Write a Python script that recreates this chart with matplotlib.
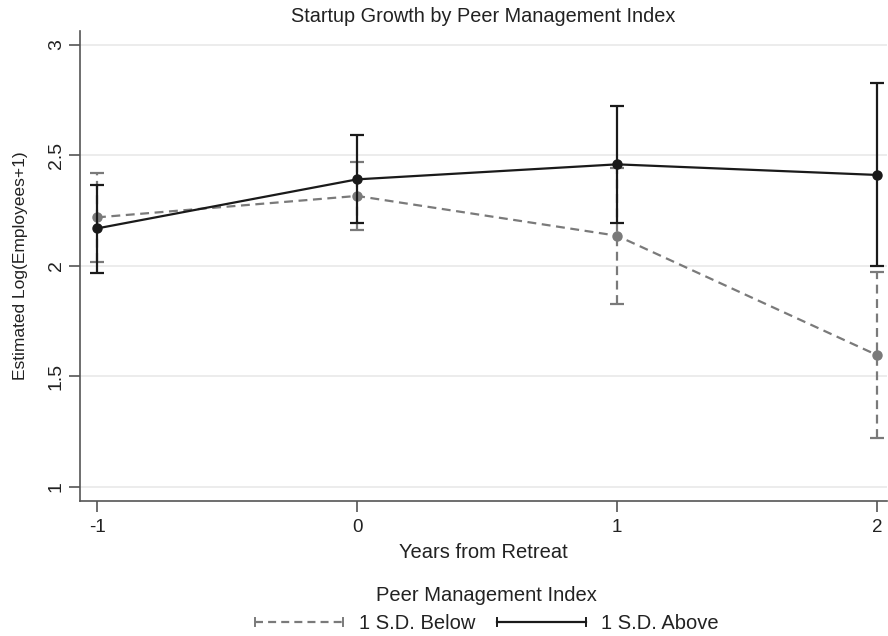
import matplotlib
matplotlib.use("Agg")
import matplotlib.pyplot as plt
from matplotlib.lines import Line2D
from matplotlib.legend_handler import HandlerBase

plt.rcParams['font.family'] = ['Liberation Sans', 'DejaVu Sans']

years = [-1, 0, 1, 2]
below_mean = [2.22, 2.317, 2.137, 1.597]
below_lo = [2.02, 2.163, 1.83, 1.22]
below_hi = [2.42, 2.472, 2.444, 1.974]
above_mean = [2.170, 2.392, 2.460, 2.412]
above_lo = [1.97, 2.195, 2.196, 2.0]
above_hi = [2.368, 2.593, 2.725, 2.828]

yticks = [1, 1.5, 2, 2.5, 3]
ytick_labels = ['1', '1.5', '2', '2.5', '3']
xticks = [-1, 0, 1, 2]
xtick_labels = ['-1', '0', '1', '2']

GRAY = '#7a7a7a'
BLACK = '#1a1a1a'
TXT = '#222222'

fig = plt.figure(figsize=(8.88, 6.36), dpi=100)
ax = fig.add_axes([80/888, 1-501/636, 807/888, 470/636])

for y in yticks:
    ax.axhline(y, color='#ebebeb', lw=1.3, zorder=0)

def draw(mean, lo, hi, color, ls, z):
    yerr = [[m - l for m, l in zip(mean, lo)], [h - m for m, h in zip(mean, hi)]]
    line, caps, bars = ax.errorbar(years, mean, yerr=yerr, color=color, lw=1.6,
                                   elinewidth=1.6, capsize=5, capthick=1.6,
                                   marker='o', markersize=6.5, zorder=z)
    line.set_linestyle(ls)
    if ls != '-':
        line.set_dashes((4, 2.5))
        for b in bars:
            b.set_linestyle((0, (4, 2.5)))

draw(below_mean, below_lo, below_hi, GRAY, '--', 3)
draw(above_mean, above_lo, above_hi, BLACK, '-', 4)

ax.set_xlim(-1 - 17/260, 2 + 10/260)
ax.set_ylim(1 - 14/221, 3 + 14/221)
ax.set_xticks(xticks)
ax.set_xticklabels(xtick_labels)
ax.set_yticks(yticks)
ax.set_yticklabels(ytick_labels, rotation=90, va='center')
ax.tick_params(axis='both', length=8, width=1.2, color='#555555', labelcolor=TXT)
ax.tick_params(axis='x', labelsize=13.5, pad=5)
ax.tick_params(axis='y', labelsize=14, pad=3)
for s in ['top', 'right']:
    ax.spines[s].set_visible(False)
for s in ['left', 'bottom']:
    ax.spines[s].set_color('#555555')
    ax.spines[s].set_linewidth(1.2)

ax.set_title('Startup Growth by Peer Management Index', fontsize=14.3, color=TXT,
             y=(501 - 17) / 470, va='center', pad=0)
ax.set_xlabel('Years from Retreat', fontsize=14.5, color=TXT)
ax.xaxis.label.set_va('center')
ax.xaxis.set_label_coords(0.5, (501 - 552) / 470)
ax.set_ylabel('Estimated Log(Employees+1)', fontsize=12.5, color=TXT)
ax.yaxis.label.set_va('center')
ax.yaxis.set_label_coords((21 - 80) / 807, 0.5)


class CapLine:
    def __init__(self, color, ls):
        self.color = color
        self.ls = ls


class CapLineHandler(HandlerBase):
    def create_artists(self, legend, orig, xdescent, ydescent, width, height, fontsize, trans):
        y = height / 2 - ydescent
        x0, x1 = -xdescent, width - xdescent
        ln = Line2D([x0, x1], [y, y], color=orig.color, lw=1.6, transform=trans)
        if orig.ls != '-':
            ln.set_dashes((3.6, 2.3))
        c0 = Line2D([x0, x0], [y - 2.6, y + 2.6], color=orig.color, lw=1.4, transform=trans)
        c1 = Line2D([x1, x1], [y - 2.6, y + 2.6], color=orig.color, lw=1.4, transform=trans)
        return [ln, c0, c1]


h1 = CapLine(GRAY, '--')
h2 = CapLine(BLACK, '-')
leg = fig.legend([h1, h2], ['1 S.D. Below', '1 S.D. Above'],
                 handler_map={CapLine: CapLineHandler()},
                 loc='lower center', bbox_to_anchor=(0.548, 0.0), ncol=2,
                 frameon=False, fontsize=14.5, handlelength=4.4, columnspacing=1.1,
                 handletextpad=0.75, title='Peer Management Index', title_fontsize=14.5,
                 labelspacing=0.45, borderpad=0.15, borderaxespad=0.0, labelcolor=TXT)
leg.get_title().set_color(TXT)

fig.savefig('out.png', dpi=100)
